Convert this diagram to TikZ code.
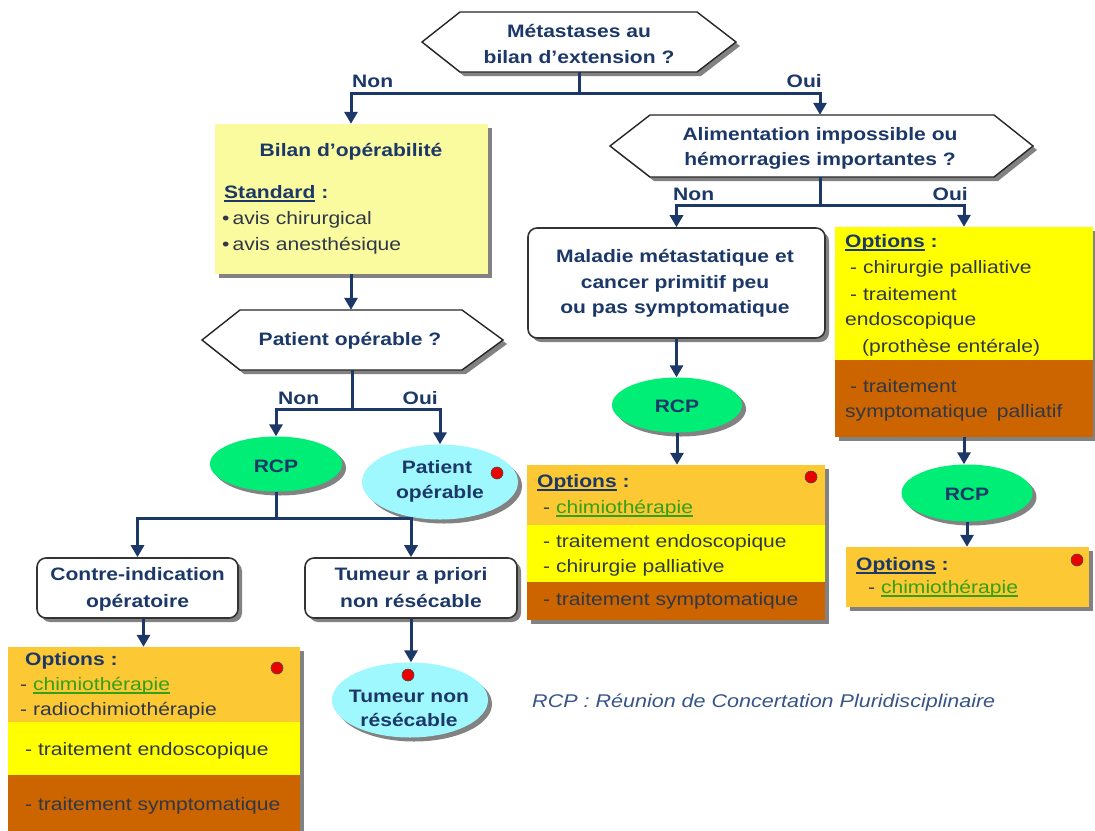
\documentclass[tikz,border=0pt]{standalone}
\usepackage{fontspec}
\setmainfont{Liberation Sans}[FakeStretch=1.17]
\usetikzlibrary{arrows.meta,shapes.geometric,shadows,calc}
\definecolor{navy}{RGB}{28,56,104}
\definecolor{bodyC}{RGB}{48,56,72}
\definecolor{linkC}{RGB}{52,160,24}
\definecolor{orangeC}{RGB}{252,200,52}
\definecolor{yellowC}{RGB}{255,255,0}
\definecolor{brownC}{RGB}{204,100,0}
\definecolor{paleC}{RGB}{250,250,158}
\definecolor{greenC}{RGB}{0,238,118}
\definecolor{cyanC}{RGB}{160,248,255}
\definecolor{shadowC}{RGB}{130,130,130}
\definecolor{noteC}{RGB}{54,84,136}
\definecolor{dotC}{RGB}{235,0,0}
\newcommand\myfs{\fontsize{18}{22}\selectfont}
\newsavebox\myulbox
\newcommand\myul[1]{\leavevmode\sbox\myulbox{#1}\rlap{\rule[-3.5pt]{\wd\myulbox}{1.3pt}}\usebox\myulbox}
\newcommand\chimio{\textcolor{linkC}{\myul{chimiothérapie}}}
\begin{document}
\begin{tikzpicture}[x=1pt,y=-1pt,
  every node/.style={font=\myfs, inner sep=0pt},
  shd/.style={drop shadow={shadow xshift=4pt, shadow yshift=-4pt, fill=shadowC, opacity=1}},
  hexa/.style={draw=black!85, line width=1.4pt, fill=white, shd},
  rbox/.style={draw=black!80, line width=1.6pt, rounded corners=9pt, fill=white, shd},
  ell/.style={ellipse, shd},
  hd/.style={font=\myfs\bfseries, text=navy, anchor=base},
  hdw/.style={font=\myfs\bfseries, text=navy, anchor=base west},
  hde/.style={font=\myfs\bfseries, text=navy, anchor=base east},
  bd/.style={text=bodyC, anchor=base west},
  dot/.style={circle, fill=dotC, draw=black!70, line width=0.6pt, minimum size=12pt},
  ln/.style={draw=navy, line width=3pt},
  arr/.style={draw=navy, line width=3pt, -{Triangle[width=13pt,length=12pt]}}
]
\useasboundingbox (0,0) rectangle (1095,830);
\fill[white] (0,0) rectangle (1095,830);

% ---- shapes ----
\draw[hexa] (422,42) -- (460,12) -- (697,12) -- (736,42) -- (697,72) -- (460,72) -- cycle;
\node[minimum width=314pt, minimum height=60pt] (q1) at (579,42) {};

\draw[hexa] (610,146) -- (650,115) -- (994,115) -- (1033,146) -- (994,177) -- (650,177) -- cycle;
\node[minimum width=423pt, minimum height=62pt] (q2) at (820,146) {};

\draw[hexa] (202,340) -- (240,310) -- (462,310) -- (503,340) -- (462,370) -- (240,370) -- cycle;
\node[minimum width=301pt, minimum height=60pt] (q3) at (352,340) {};

\node[shd, fill=paleC, minimum width=273pt, minimum height=150pt] (bilan) at (351,199) {};

\node[ell, fill=greenC, minimum width=132pt, minimum height=55pt] (rcp1) at (276,464) {};
\node[ell, fill=cyanC, minimum width=156pt, minimum height=75pt] (pop) at (440,482) {};
\node[rbox, minimum width=201pt, minimum height=60pt] (contre) at (137.5,588) {};
\node[rbox, minimum width=212pt, minimum height=60pt] (tumeur) at (411,588) {};
\node[ell, fill=cyanC, minimum width=156pt, minimum height=75pt] (tnr) at (410,700) {};

\node[shd, fill=orangeC, minimum width=292pt, minimum height=185pt] (optL) at (154,739.5) {};
\fill[yellowC] (optL.west |- 0,722) rectangle (optL.east |- 0,775);
\fill[brownC] (optL.west |- 0,775) rectangle (optL.south east);

\node[rbox, minimum width=297pt, minimum height=110pt] (maladie) at (676.5,283) {};
\node[ell, fill=greenC, minimum width=130pt, minimum height=55pt] (rcp2) at (677,405) {};
\node[shd, fill=orangeC, minimum width=298pt, minimum height=155pt] (optM) at (676,542.5) {};
\fill[yellowC] (optM.west |- 0,525) rectangle (optM.east |- 0,582);
\fill[brownC] (optM.west |- 0,582) rectangle (optM.south east);

\node[shd, fill=yellowC, minimum width=258pt, minimum height=210pt] (optR) at (964,332) {};
\fill[brownC] (optR.west |- 0,360) rectangle (optR.south east);
\node[ell, fill=greenC, minimum width=131pt, minimum height=57pt] (rcp3) at (967,493) {};
\node[shd, fill=orangeC, minimum width=243pt, minimum height=60pt] (optR2) at (967.5,577) {};

% ---- connectors ----
\coordinate (j1) at (579,93);
\draw[ln] (q1.south) -- (j1);
\draw[arr] (j1) -| (bilan.north);
\draw[arr] (j1) -| (q2.north);

\coordinate (j2) at (820,205);
\draw[ln] (q2.south) -- (j2);
\draw[arr] (j2) -| (maladie.north);
\draw[arr] (j2) -| (optR.north);

\draw[arr] (bilan.south) -- (bilan.south |- q3.north);
\coordinate (j3) at (352,409);
\draw[ln] (q3.south) -- (j3);
\draw[arr] (j3) -| (rcp1.north);
\draw[arr] (j3) -| (pop.north);

\coordinate (j4) at (276,518);
\draw[ln] (rcp1.south) -- (j4);
\draw[arr] (j4) -| (contre.north);
\draw[arr] (j4) -| (tumeur.north);

\draw[arr] ([xshift=6pt]contre.south) -- ([xshift=6pt]contre.south |- optL.north);
\draw[arr] (tumeur.south) -- (tumeur.south |- tnr.north);
\draw[arr] (maladie.south) -- (maladie.south |- rcp2.north);
\draw[arr] (rcp2.south) -- (rcp2.south |- optM.north);
\draw[arr] (optR.south) -- (optR.south |- rcp3.north);
\draw[arr] (rcp3.south) -- (rcp3.south |- optR2.north);

% ---- labels ----
\node[hdw] (n1) at (352,87) {Non};
\node[hde] (o1) at (822,87) {Oui};
\node[hdw] (n2) at (673,200) {Non};
\node[hde] (o2) at (968,200) {Oui};
\node[hdw] (n3) at (278,404) {Non};
\node[hde] (o3) at (438,404) {Oui};

% ---- texts ----
\node[hd] (q1a) at (579,37) {Métastases au};
\node[hd] (q1b) at (579,63) {bilan d'extension ?};
\node[hd] (q2a) at (820,140) {Alimentation impossible ou};
\node[hd] (q2b) at (820,165) {hémorragies importantes ?};
\node[hd] (q3a) at (350,345) {Patient opérable ?};

\node[hd] (b1) at (351,156) {Bilan d’opérabilité};
\node[hdw] (b2) at (224,198) {\myul{Standard} :};
\node[bd] (b3) at (222,224) {\textbullet\,avis chirurgical};
\node[bd] (b4) at (222,250) {\textbullet\,avis anesthésique};

\node[hd] (r1) at (276,472) {RCP};
\node[hd] (p1) at (437,473) {Patient};
\node[hd] (p2) at (440,498) {opérable};
\node[dot] (d1) at (497,473) {};

\node[hd] (c1) at (137.5,580) {Contre-indication};
\node[hd] (c2) at (137.5,607) {opératoire};
\node[hd] (t1) at (411,580) {Tumeur a priori};
\node[hd] (t2) at (411,607) {non résécable};

\node[hd] (tn1) at (409,702) {Tumeur non};
\node[hd] (tn2) at (409,726) {résécable};
\node[dot] (d2) at (408,675) {};

\node[hdw] (l1) at (25,665) {Options :};
\node[bd] (l2) at (20,690) {- \chimio};
\node[bd] (l3) at (20,715) {- radiochimiothérapie};
\node[bd] (l4) at (25,755) {- traitement endoscopique};
\node[bd] (l5) at (25,810) {- traitement symptomatique};
\node[dot] (d3) at (277,668) {};

\node[hd] (m1) at (675,262) {Maladie métastatique et};
\node[hd] (m2) at (675,288) {cancer primitif peu};
\node[hd] (m3) at (675,313) {ou pas symptomatique};
\node[hd] (r2) at (677,412) {RCP};

\node[hdw] (om1) at (537,487) {\myul{Options} :};
\node[bd] (om2) at (543,513) {- \chimio};
\node[bd] (om3) at (543,547) {- traitement endoscopique};
\node[bd] (om4) at (543,572) {- chirurgie palliative};
\node[bd] (om5) at (543,605) {- traitement symptomatique};
\node[dot] (d4) at (811,477) {};

\node[hdw] (or1) at (845,247) {\myul{Options} :};
\node[bd] (or2) at (850,273) {- chirurgie palliative};
\node[bd] (or3) at (850,300) {- traitement};
\node[bd] (or4) at (845,325) {endoscopique};
\node[bd] (or5) at (862,352) {(prothèse entérale)};
\node[bd] (or6) at (850,392) {- traitement};
\node[bd] (or7) at (845,417) {symptomatique\hspace{0.5em}palliatif};

\node[hd] (r3) at (967,500) {RCP};
\node[hdw] (oq1) at (856,570) {\myul{Options} :};
\node[bd] (oq2) at (868,593) {- \chimio};
\node[dot] (d5) at (1077,560) {};

\node[anchor=base west, font=\fontsize{18.4}{22}\selectfont\itshape, text=noteC] (note) at (532,707) {RCP : Réunion de Concertation Pluridisciplinaire};
\end{tikzpicture}
\end{document}
